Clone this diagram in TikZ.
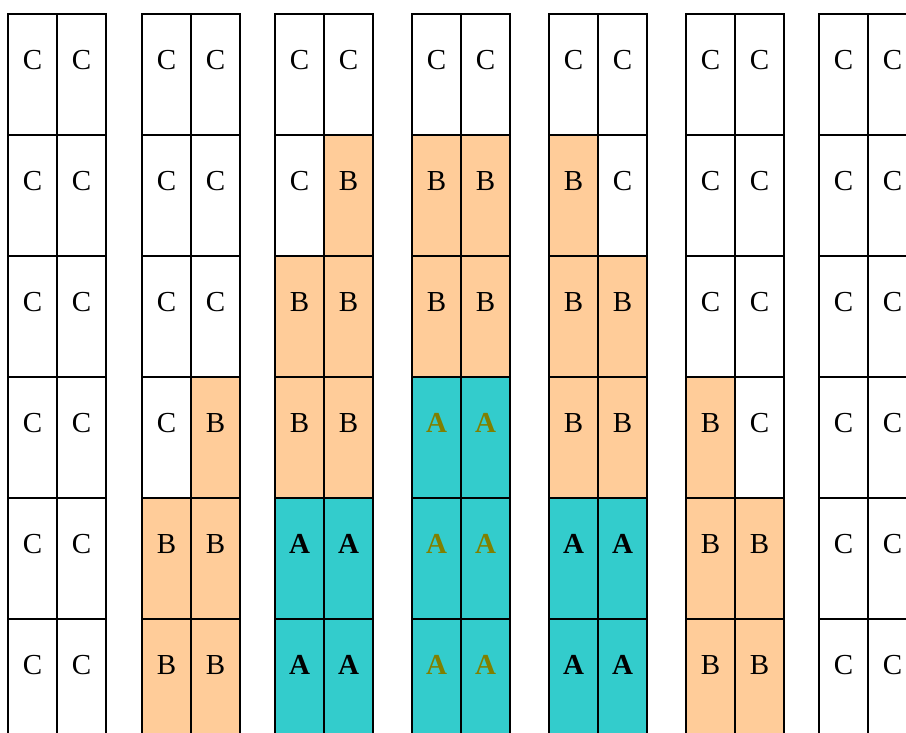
\documentclass[tikz,border=0pt]{standalone}
\usepackage{fontspec}
\setmainfont{Liberation Serif}
\definecolor{peach}{HTML}{FFCC99}
\definecolor{tealcell}{HTML}{33CCCC}
\definecolor{olivetxt}{HTML}{808000}
\newcommand\txtC{C}
\newcommand\txtB{B}
\newcommand\txtA{\textbf{A}}
\newcommand\txtG{\textbf{A}}
\begin{document}
\begin{tikzpicture}[x=1pt,y=-1pt,
  cell/.style={draw=black, line width=2.4pt, minimum width=49pt, minimum height=121pt,
    inner sep=0pt, outer sep=0pt, anchor=north west},
  cellC/.style={fill=white}, cellB/.style={fill=peach},
  cellA/.style={fill=tealcell}, cellG/.style={fill=tealcell},
  letter/.style={anchor=center, inner sep=0pt, font=\fontsize{29}{29}\selectfont},
  letC/.style={text=black}, letB/.style={text=black},
  letA/.style={text=black}, letG/.style={text=olivetxt}]
\useasboundingbox (0,0) rectangle (906,733);
\clip (0,0) rectangle (906,733);
\foreach \px/\spec [count=\i] in {
  8/{C,C,C,C,C,C,C,C,C,C,C,C},
  142/{C,C,C,C,C,C,C,B,B,B,B,B},
  275/{C,C,C,B,B,B,B,B,A,A,A,A},
  412/{C,C,B,B,B,B,G,G,G,G,G,G},
  549/{C,C,B,C,B,B,B,B,A,A,A,A},
  686/{C,C,C,C,C,C,B,C,B,B,B,B},
  819/{C,C,C,C,C,C,C,C,C,C,C,C}} {
  \foreach \t [count=\k from 0] in \spec {
    \pgfmathtruncatemacro\r{div(\k,2)}
    \pgfmathtruncatemacro\s{mod(\k,2)}
    \node[cell, cell\t, minimum width=49pt] (cell-\i-\r-\s) at ({\px+49*\s},{14+121*\r}) {};
    \node[letter, let\t] (txt-\i-\r-\s) at ({\px+49*\s+24.5},{14+121*\r+46}) {\csname txt\t\endcsname};
  }
}
\end{tikzpicture}
\end{document}
